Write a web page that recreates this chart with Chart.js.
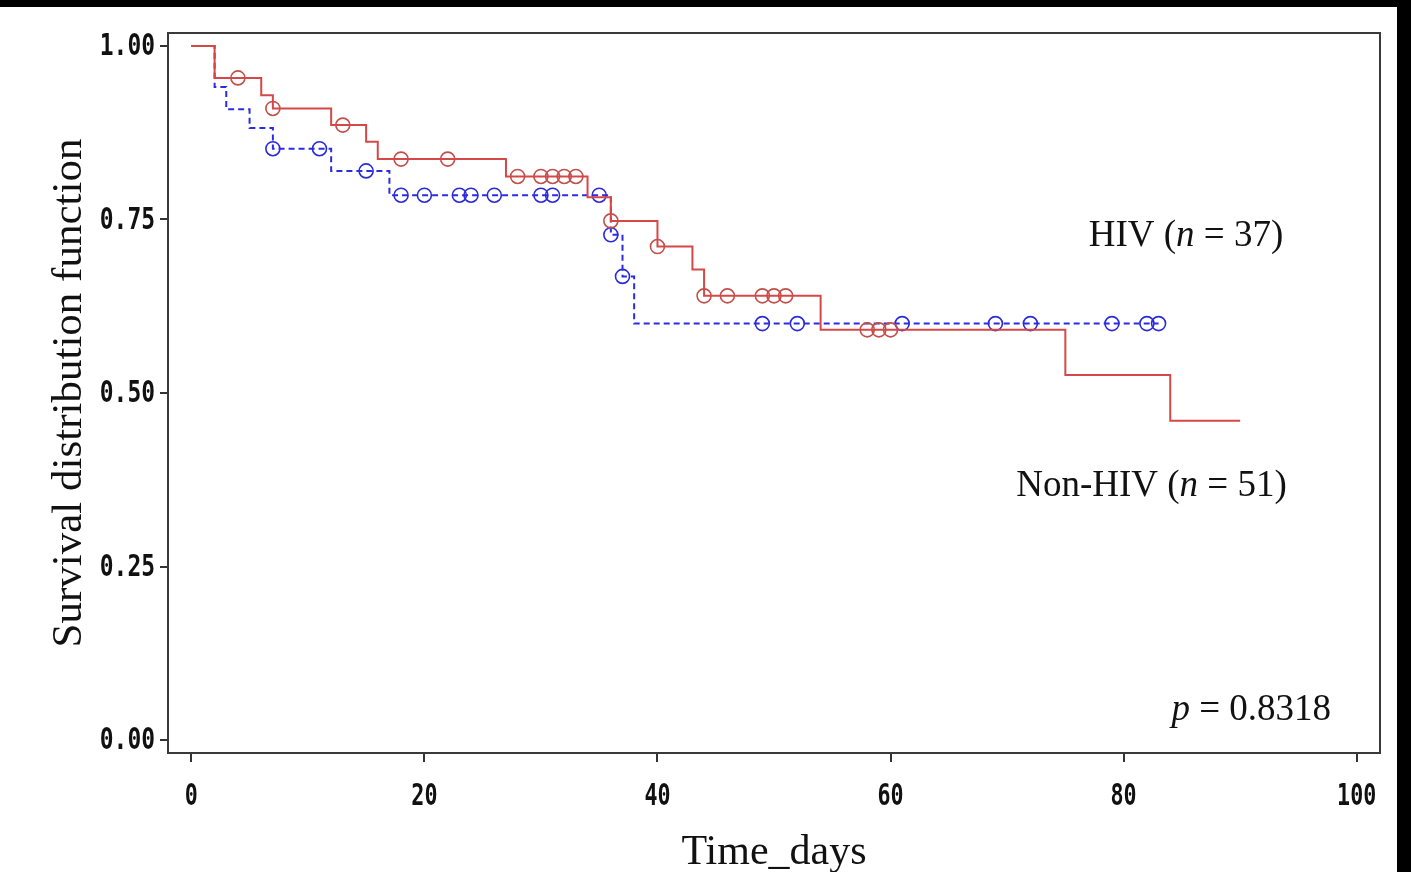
<!DOCTYPE html>
<html><head><meta charset="utf-8">
<script src="https://cdn.jsdelivr.net/npm/chart.js@4"></script>
<style>
html,body{margin:0;padding:0;background:#000;overflow:hidden;}
#paper{position:absolute;left:0;top:7px;width:1397px;height:865px;background:#fff;}
#box{position:absolute;left:0;top:0;width:1411px;height:872px;}
</style></head><body>
<div id="paper"></div>
<div id="box"><canvas id="chart"></canvas></div>
<script>
// ---- data ----
const hivTimes = [0, 2, 3, 5, 7, 12, 17, 36, 37, 38, 83];
const hivSurv  = [1.0, 0.941, 0.909, 0.882, 0.852, 0.820, 0.785, 0.728, 0.668, 0.600, 0.600];
const hivCensorTimes = [7, 11, 15, 18, 20, 23, 24, 26, 30, 31, 35, 36, 37, 49, 52, 61, 69, 72, 79, 82, 83];
const hivCensorSurv  = [0.852, 0.852, 0.820, 0.785, 0.785, 0.785, 0.785, 0.785, 0.785, 0.785, 0.785, 0.728, 0.668, 0.600, 0.600, 0.600, 0.600, 0.600, 0.600, 0.600, 0.600];
const nonTimes = [0, 2, 6, 7, 12, 15, 16, 27, 34, 36, 40, 43, 44, 54, 75, 84, 90];
const nonSurv  = [1.0, 0.954, 0.929, 0.910, 0.886, 0.862, 0.837, 0.812, 0.782, 0.748, 0.711, 0.678, 0.640, 0.591, 0.526, 0.460, 0.460];
const nonCensorTimes = [4, 7, 13, 18, 22, 28, 30, 31, 32, 33, 36, 40, 44, 46, 49, 50, 51, 58, 59, 60];
const nonCensorSurv  = [0.954, 0.910, 0.886, 0.837, 0.837, 0.812, 0.812, 0.812, 0.812, 0.812, 0.748, 0.711, 0.640, 0.640, 0.640, 0.640, 0.640, 0.591, 0.591, 0.591];
const xTicks = [0, 20, 40, 60, 80, 100];
const xTickLabels = ['0', '20', '40', '60', '80', '100'];
const yTicks = [0, 0.25, 0.5, 0.75, 1.0];
const yTickLabels = ['0.00', '0.25', '0.50', '0.75', '1.00'];
const xTitle = 'Time_days';
const yTitle = 'Survival distribution function';
const groupLabels = [
  {parts: [['HIV (', false], ['n', true], [' = 37)', false]], x: 93.7, y: 0.726},
  {parts: [['Non-HIV (', false], ['n', true], [' = 51)', false]], x: 94.0, y: 0.366},
  {parts: [['p', true], [' = 0.8318', false]], x: 97.8, y: 0.043}
];

const pts = (xs, ys) => xs.map((x, i) => ({x: x, y: ys[i]}));
const RED = '#d64848', BLUE = '#2c2ce0';
const serif = "'Liberation Serif','DejaVu Serif',serif";
const tickFontCss = "bold 31px 'DejaVu Sans Mono','Liberation Mono',monospace";

const framePlugin = {
  id: 'frame',
  afterDraw(chart) {
    const {ctx, chartArea: a, scales} = chart;
    ctx.save();
    ctx.strokeStyle = '#3a3a3a';
    ctx.lineWidth = 2;
    ctx.strokeRect(a.left, a.top, a.right - a.left, a.bottom - a.top);
    // condensed bold tick labels
    ctx.fillStyle = '#111';
    ctx.font = tickFontCss;
    ctx.textBaseline = 'middle';
    yTicks.forEach((v, i) => {
      ctx.save();
      ctx.translate(a.left - 13, scales.y.getPixelForValue(v));
      ctx.scale(0.74, 1);
      ctx.textAlign = 'right';
      ctx.fillText(yTickLabels[i], 0, 1);
      ctx.restore();
    });
    xTicks.forEach((v, i) => {
      ctx.save();
      ctx.translate(scales.x.getPixelForValue(v), a.bottom + 44);
      ctx.scale(0.7, 1);
      ctx.textAlign = 'center';
      ctx.fillText(xTickLabels[i], 0, 0);
      ctx.restore();
    });
    // group annotations
    ctx.textAlign = 'left';
    groupLabels.forEach(g => {
      let total = 0;
      g.parts.forEach(p => { ctx.font = (p[1] ? 'italic ' : '') + '37px ' + serif; total += ctx.measureText(p[0]).width; });
      let x = scales.x.getPixelForValue(g.x) - total;
      const y = scales.y.getPixelForValue(g.y);
      g.parts.forEach(p => {
        ctx.font = (p[1] ? 'italic ' : '') + '37px ' + serif;
        ctx.fillText(p[0], x, y);
        x += ctx.measureText(p[0]).width;
      });
    });
    ctx.restore();
  }
};

new Chart(document.getElementById('chart'), {
  type: 'scatter',
  data: {
    datasets: [
      {label: 'Non-HIV', data: pts(nonTimes, nonSurv), showLine: true, stepped: 'before',
       borderColor: RED, borderWidth: 2, pointRadius: 0, fill: false},
      {label: 'Non-HIV censored', data: pts(nonCensorTimes, nonCensorSurv), showLine: false,
       pointStyle: 'circle', pointRadius: 7, pointBorderWidth: 1.6, pointBorderColor: '#c0504a', pointBackgroundColor: 'rgba(0,0,0,0)'},
      {label: 'HIV', data: pts(hivTimes, hivSurv), showLine: true, stepped: 'before',
       borderColor: BLUE, borderWidth: 2, borderDash: [6, 4], pointRadius: 0, fill: false},
      {label: 'HIV censored', data: pts(hivCensorTimes, hivCensorSurv), showLine: false,
       pointStyle: 'circle', pointRadius: 7, pointBorderWidth: 1.6, pointBorderColor: '#2a2ad8', pointBackgroundColor: 'rgba(0,0,0,0)'}
    ]
  },
  options: {
    responsive: true, maintainAspectRatio: false, animation: false,
    layout: {padding: {left: 0, top: 33, right: 31, bottom: 0}},
    plugins: {legend: {display: false}, tooltip: {enabled: false}},
    scales: {
      x: {
        type: 'linear', min: -2, max: 102,
        afterBuildTicks: s => { s.ticks = xTicks.map(v => ({value: v})); },
        afterFit: s => { s.height = 119; },
        ticks: {display: false},
        grid: {drawOnChartArea: false, drawTicks: true, tickLength: 9, color: '#333', lineWidth: 2},
        border: {display: false},
        title: {display: true, text: xTitle, color: '#111', font: {family: serif, size: 42}, padding: {top: 0, bottom: -6}}
      },
      y: {
        type: 'linear', min: -0.0187, max: 1.0187,
        afterBuildTicks: s => { s.ticks = yTicks.map(v => ({value: v})); },
        afterFit: s => { s.width = 168; },
        ticks: {display: false},
        grid: {drawOnChartArea: false, drawTicks: true, tickLength: 8, color: '#333', lineWidth: 2},
        border: {display: false},
        title: {display: true, text: yTitle, color: '#111', font: {family: serif, size: 43}, padding: {top: 44, bottom: 0}}
      }
    }
  },
  plugins: [framePlugin]
});
</script>
</body></html>
